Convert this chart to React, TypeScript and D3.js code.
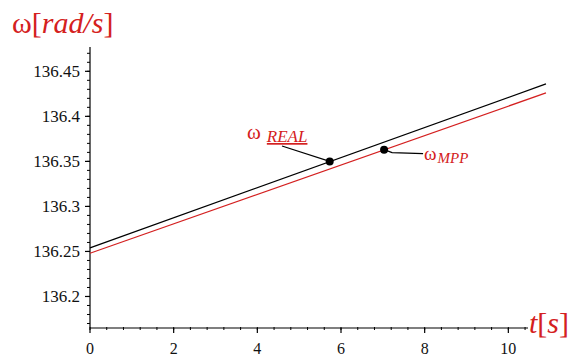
import React from "react";
import * as d3 from "d3";

// Angular speed over time: measured (REAL) vs maximum power point (MPP)
const time = [0, 10.9];
const omegaReal = [136.254, 136.436];
const omegaMpp = [136.248, 136.426];

// Highlighted points on each curve
const markerTimes = [5.73, 7.03];
const markerValues = [136.35, 136.363];

const xTicks = [0, 2, 4, 6, 8, 10];
const xTickLabels = ["0", "2", "4", "6", "8", "10"];
const yTicks = [136.2, 136.25, 136.3, 136.35, 136.4, 136.45];
const yTickLabels = ["136.2", "136.25", "136.3", "136.35", "136.4", "136.45"];

const W = 574;
const H = 360;
const RED = "#d42020";
const FONT = "'Liberation Serif', 'DejaVu Serif', serif";

export default function App() {
  const x = d3.scaleLinear().domain([0, 10.47]).range([90, 528]);
  const y = d3.scaleLinear().domain([136.165, 136.477]).range([328, 47]);

  const xMinor = d3.range(0, 10.47, 0.4);
  const yMinor = d3.range(136.17, 136.477, 0.01);

  const line = d3
    .line<number>()
    .x((_, i) => x(time[i]))
    .y((d) => y(d));

  const x0 = x(0);
  const yAxisY = y(136.165);

  const mReal = { cx: x(markerTimes[0]), cy: y(markerValues[0]) };
  const mMpp = { cx: x(markerTimes[1]), cy: y(markerValues[1]) };

  return (
    <div style={{ position: "absolute", left: 0, top: 0 }}>
      <svg width={W} height={H} style={{ display: "block", background: "#fff" }}>
        {/* y axis */}
        <line x1={x0} x2={x0} y1={y(136.477)} y2={yAxisY} stroke="#000" strokeWidth={1.2} />
        {yMinor.map((v, i) => (
          <line key={"ym" + i} x1={x0 - 3} x2={x0} y1={y(v)} y2={y(v)} stroke="#000" strokeWidth={1} />
        ))}
        {yTicks.map((v, i) => (
          <g key={"yt" + i}>
            <line x1={x0 - 5} x2={x0} y1={y(v)} y2={y(v)} stroke="#000" strokeWidth={1.2} />
            <text
              x={x0 - 10}
              y={y(v) + 6}
              textAnchor="end"
              fontFamily={FONT}
              fontSize={17}
              fill="#111"
            >
              {yTickLabels[i]}
            </text>
          </g>
        ))}

        {/* x axis */}
        <line x1={x0} x2={x(10.47)} y1={yAxisY} y2={yAxisY} stroke="#000" strokeWidth={1.2} />
        {xMinor.map((v, i) => (
          <line key={"xm" + i} x1={x(v)} x2={x(v)} y1={yAxisY - 1} y2={yAxisY + 2} stroke="#000" strokeWidth={1} />
        ))}
        {xTicks.map((v, i) => (
          <g key={"xt" + i}>
            <line x1={x(v)} x2={x(v)} y1={yAxisY} y2={yAxisY + 5} stroke="#000" strokeWidth={1.2} />
            <text
              x={x(v)}
              y={yAxisY + 26}
              textAnchor="middle"
              fontFamily={FONT}
              fontSize={16}
              fill="#111"
            >
              {xTickLabels[i]}
            </text>
          </g>
        ))}

        {/* curves */}
        <path d={line(omegaMpp) ?? ""} fill="none" stroke={RED} strokeWidth={1.3} />
        <path d={line(omegaReal) ?? ""} fill="none" stroke="#000" strokeWidth={1.3} />

        {/* markers and leaders */}
        <line x1={282} y1={146} x2={mReal.cx} y2={mReal.cy} stroke="#000" strokeWidth={1.2} />
        <circle cx={mReal.cx} cy={mReal.cy} r={4} fill="#000" />
        <polyline
          points={`${mMpp.cx},${mMpp.cy} ${mMpp.cx + 8},${mMpp.cy + 3} ${mMpp.cx + 39},${mMpp.cy + 4}`}
          fill="none"
          stroke="#000"
          strokeWidth={1.2}
        />
        <circle cx={mMpp.cx} cy={mMpp.cy} r={4} fill="#000" />

        {/* curve labels */}
        <text x={247} y={139} fontFamily={FONT} fill={RED}>
          <tspan fontSize={21}>ω</tspan>
          <tspan fontSize={17} fontStyle="italic" dx={6} dy={3} textDecoration="underline">
            REAL
          </tspan>
        </text>
        <text x={424} y={160} fontFamily={FONT} fill={RED}>
          <tspan fontSize={19}>ω</tspan>
          <tspan fontSize={15} fontStyle="italic" dx={1} dy={3}>
            MPP
          </tspan>
        </text>

        {/* axis titles */}
        <text x={12} y={33} fontFamily={FONT} fontSize={30} fill={RED}>
          <tspan>ω[</tspan>
          <tspan fontStyle="italic">rad/s</tspan>
          <tspan>]</tspan>
        </text>
        <text x={529} y={333} fontFamily={FONT} fontSize={30} fill={RED}>
          <tspan fontStyle="italic">t</tspan>
          <tspan>[</tspan>
          <tspan fontStyle="italic">s</tspan>
          <tspan>]</tspan>
        </text>
      </svg>
    </div>
  );
}
